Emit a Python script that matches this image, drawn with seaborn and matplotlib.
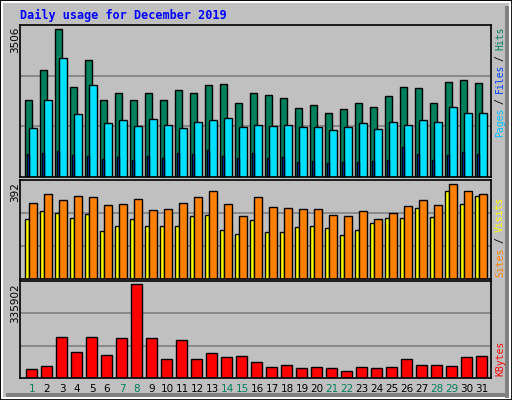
import numpy as np
import pandas as pd
import matplotlib
matplotlib.use("Agg")
import matplotlib.pyplot as plt
from matplotlib.patches import Rectangle
import seaborn as sns

days = list(range(1, 32))
hits = [1813,2528,3506,2123,2767,1813,1980,1813,1980,1813,2051,1980,2170,2194,1765,1980,
        1932,1860,1646,1717,1526,1622,1765,1670,1908,2123,2099,1765,2242,2290,2218]
files = [1169,1836,2814,1503,2170,1288,1359,1216,1383,1240,1169,1312,1359,1407,1193,1240,
         1216,1240,1193,1193,1121,1193,1288,1145,1312,1240,1359,1312,1670,1526,1526]
pages = [549,572,620,525,500,430,477,405,500,453,572,549,644,500,453,572,
         453,477,358,382,334,358,358,382,405,715,549,405,525,596,549]
visits = [315,349,324,341,337,307,311,332,285,290,315,337,362,311,260,337,
          298,294,290,290,264,260,281,247,273,302,328,307,392,362,349]
sites = [247,281,273,251,268,200,217,247,217,217,217,260,264,204,187,243,
         196,192,213,217,209,183,204,230,251,251,294,256,362,311,341]
kbytes = [30650,41684,145894,93176,145894,82142,142216,335902,142216,67430,137312,67430,
          89498,74786,78464,56396,38006,45362,34328,38006,34328,23294,38006,34328,38006,
          67430,45362,45362,41684,74786,78464]
weekend = [1,7,8,14,15,21,22,28,29]
title = "Daily usage for December 2019"

sns.set_style("white")
plt.rcParams['font.family'] = ['DejaVu Sans Mono', 'DejaVu Sans']

W, H = 512, 400
fig = plt.figure(figsize=(W/100, H/100), dpi=100)
fig.patch.set_facecolor("#C0C0C0")
fig.add_artist(Rectangle((0, 0), 1, 1, transform=fig.transFigure, fill=False, ec="black", lw=2))
fig.add_artist(Rectangle((2/W, 2/H), 1-4/W, 1-4/H, transform=fig.transFigure, fill=False, ec="white", lw=1.5))
fig.add_artist(Rectangle((1-7/W, 2/H), 4/W, 1-8/H, transform=fig.transFigure, fc="#808080", ec="none"))
fig.add_artist(Rectangle((6/W, 3/H), 1-10/W, 4/H, transform=fig.transFigure, fc="#808080", ec="none"))

def mkax(top, bottom):
    ax = fig.add_axes([20/W, 1-bottom/H, (491-20)/W, (bottom-top)/H])
    ax.set_facecolor("#C0C0C0")
    for s in ax.spines.values():
        s.set_color("black"); s.set_linewidth(1.2)
    return ax

d = np.array(days, dtype=float)

def bars(ax, off, w, vals, color):
    df = pd.DataFrame({"x": d + off, "y": vals})
    sns.barplot(data=df, x="x", y="y", native_scale=True, width=w, color=color,
                edgecolor="black", linewidth=1, ax=ax, saturation=1, errorbar=None)

def finish(ax, top_val, frac):
    ylim = top_val / frac
    ax.set_ylim(0, ylim)
    ax.set_xlim(0.233, 31.633)
    for f in (1/3, 2/3):
        ax.axhline(ylim * f, color="#808080", lw=1.2, zorder=0)
    ax.set_xticks([]); ax.set_yticks([])
    ax.set_xlabel(""); ax.set_ylabel("")

ax1 = mkax(25, 177)
bars(ax1, -0.2, 0.467, hits, "#00805C")
bars(ax1, 0.1, 0.533, files, "#00E0FF")
bars(ax1, -0.233, 0.133, pages, "#0040FF")
finish(ax1, max(hits), 147/151)

ax2 = mkax(180, 279)
bars(ax2, -0.3, 0.267, sites, "#FFFF00")
bars(ax2, 0.1, 0.533, visits, "#FF8000")
finish(ax2, max(visits), 95/99)

ax3 = mkax(281, 378)
bars(ax3, 0.0, 0.733, kbytes, "#FF0000")
finish(ax3, max(kbytes), 94/97)

def ftext(x, y, s, **kw):
    fig.text(x/W, 1-y/H, s, **kw)

ftext(20, 15, title, color="#0000FF", fontsize=8.5, fontweight="bold", va="center", ha="left")
for y, v in ((25, max(hits)), (180, max(visits)), (281, max(kbytes))):
    ftext(15, y+2, str(v), rotation=90, rotation_mode="anchor", ha="right", va="center",
          fontsize=7.5, color="black", family=["DejaVu Sans", "DejaVu Sans Mono"])

def side(ybot, parts, step=5.45):
    i = 0
    for s, c in parts:
        if s.strip() == "/":
            ftext(500, ybot - (i + 1)*step, "/", rotation=90, rotation_mode="anchor",
                  ha="left", va="center", fontsize=7, color=c)
        else:
            ftext(500, ybot - i*step, s, rotation=90, rotation_mode="anchor", ha="left",
                  va="center", fontsize=7, color=c)
        i += len(s)

side(137, [("Pages", "#00C0FF"), (" / ", "black"), ("Files", "#0040FF"), (" / ", "black"), ("Hits", "#00805C")])
side(277, [("Sites", "#FF8000"), (" / ", "black"), ("Visits", "#FFFF00")], step=5.6)
side(376, [("KBytes", "#FF0000")], step=5.6)

for dd in days:
    x = 31.5 + 15*(dd-1)
    ftext(x + 0.5, 389, str(dd), ha="center", va="center", fontsize=7.5,
          color="#00805C" if dd in weekend else "black", family=["DejaVu Sans", "DejaVu Sans Mono"])

fig.savefig("out.png", dpi=100, facecolor=fig.get_facecolor())
